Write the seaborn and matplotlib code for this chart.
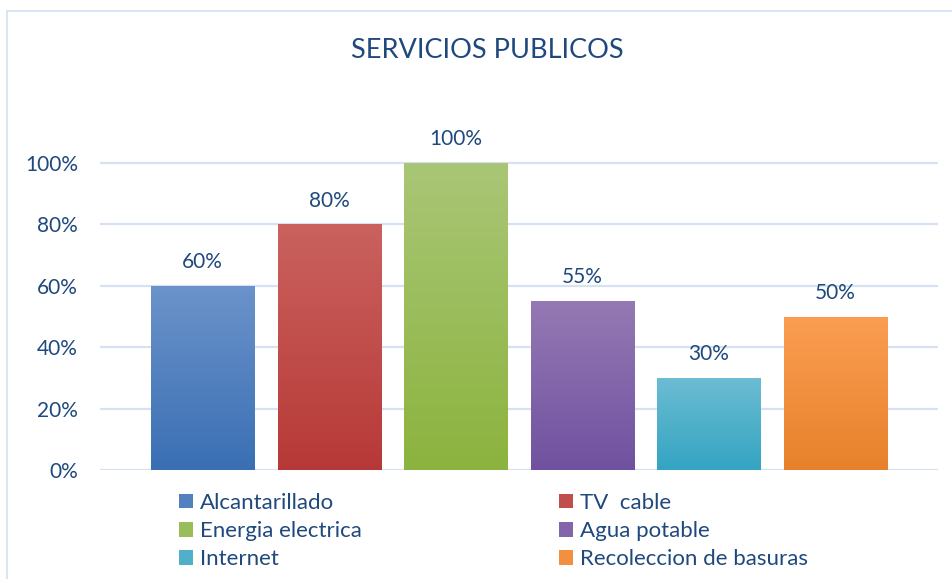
import matplotlib
matplotlib.use("Agg")
import matplotlib.pyplot as plt
import matplotlib.colors as mcolors
from matplotlib.patches import Patch
from matplotlib.lines import Line2D
import numpy as np
import pandas as pd
import seaborn as sns

# ---- data ----
categories = ["Alcantarillado", "TV  cable", "Energia electrica",
              "Agua potable", "Internet", "Recoleccion de basuras"]
values = [60, 80, 100, 55, 30, 50]
yticks = [0, 20, 40, 60, 80, 100]
title = "SERVICIOS PUBLICOS"

# gradient colours (top, bottom) per bar
top_colors = ["#6C93CA", "#CA625E", "#A9C676", "#9579B4", "#6DBDD3", "#FB9E52"]
bot_colors = ["#3A6FB4", "#B73937", "#8CB33E", "#7051A0", "#33A4C2", "#E7812B"]

TXT = "#1F497D"
GRID = "#D6E2F3"
FONT = "Lato"

sns.set_theme(style="white")
plt.rcParams["font.family"] = [FONT, "DejaVu Sans"]

W, H = 953, 579
fig = plt.figure(figsize=(W / 100, H / 100), dpi=100)

# axes placed in pixel terms
x0, x1 = 100, 938
y_zero, y_100 = 470, 163
ymax = 120
px_per = (y_zero - y_100) / 100.0
y_top = y_zero - ymax * px_per
ax = fig.add_axes([x0 / W, (H - y_zero) / H, (x1 - x0) / W, (y_zero - y_top) / H])

df = pd.DataFrame({"cat": categories, "val": values})
pal = [mcolors.to_hex(np.mean([mcolors.to_rgb(a), mcolors.to_rgb(b)], axis=0))
       for a, b in zip(top_colors, bot_colors)]
sns.barplot(data=df, x="cat", y="val", hue="cat", palette=pal, legend=False,
            width=0.814, ax=ax, saturation=1, zorder=3)

bars = [p for p in ax.patches]

# gradient overlay clipped to each bar, plus value labels
for patch, tc, bc, v in zip(bars, top_colors, bot_colors, values):
    bx, by = patch.get_x(), patch.get_y()
    bw, bh = patch.get_width(), patch.get_height()
    cmap = mcolors.LinearSegmentedColormap.from_list("g", [bc, tc])
    grad = np.linspace(0, 1, 256).reshape(-1, 1)
    im = ax.imshow(grad, cmap=cmap, aspect="auto", origin="lower",
                   extent=[bx, bx + bw, by, by + bh], zorder=4,
                   interpolation="bilinear")
    im.set_clip_path(patch)
    patch.set_edgecolor("none")
    ax.annotate(f"{v}%", (bx + bw / 2, by + bh), xytext=(0, 10),
                textcoords="offset points", ha="center", va="bottom",
                fontsize=15, color=TXT, zorder=6, annotation_clip=False)

ax.set_xlim(-0.81, 5.81)
ax.set_ylim(0, ymax)
ax.set_yticks(yticks)
ax.set_yticklabels([f"{t}%" for t in yticks])
ax.set_xticks([])
ax.set_xlabel("")
ax.set_ylabel("")
ax.tick_params(axis="y", length=0, pad=16, labelsize=15, labelcolor=TXT)
for s in ax.spines.values():
    s.set_visible(False)
for t in yticks:
    ax.axhline(t, color=GRID, lw=1.6, zorder=1)

# title
fig.text(487 / W, 1 - 51 / H, title, ha="center", va="center",
         fontsize=19.5, color=TXT)

# legends (two columns)
handles = [Patch(facecolor=p, edgecolor="none") for p in pal]
fs = 16
kw = dict(frameon=False, fontsize=fs, handlelength=0.63, handleheight=0.63,
          handletextpad=0.3, labelspacing=0.37, borderpad=0, borderaxespad=0,
          loc="upper left", labelcolor=TXT)
col1 = [0, 2, 4]
col2 = [1, 3, 5]
leg1 = fig.legend([handles[i] for i in col1], [categories[i] for i in col1],
                  bbox_to_anchor=(179 / W, 1 - 493 / H), **kw)
leg2 = fig.legend([handles[i] for i in col2], [categories[i] for i in col2],
                  bbox_to_anchor=(559 / W, 1 - 493 / H), **kw)

# chart border (left and top)
bc_ = "#D5E3F3"
fig.add_artist(Line2D([6.5 / W, 6.5 / W], [0, 1 - 10.5 / H], color=bc_, lw=1.3,
                      transform=fig.transFigure))
fig.add_artist(Line2D([6.5 / W, 1], [1 - 10.5 / H, 1 - 10.5 / H], color=bc_, lw=1.3,
                      transform=fig.transFigure))

fig.savefig("out.png", dpi=100, facecolor="white")
